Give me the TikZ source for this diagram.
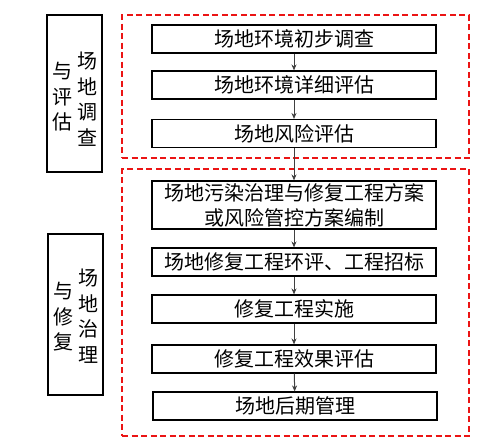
\documentclass[tikz,border=0pt]{standalone}
\usepackage{fontspec}
\newfontfamily\cjk{Noto Sans CJK SC}
\usetikzlibrary{arrows.meta}
\definecolor{arrgray}{RGB}{64, 64, 64}
\definecolor{dashred}{RGB}{235, 20, 20}

\begin{document}
\begin{tikzpicture}[x=1pt, y=-1pt,
  stepbox/.style={rectangle, draw=black, line width=1.1pt,
                  minimum width=284pt, minimum height=28pt, align=center,
                  inner sep=0pt, font=\cjk\fontsize{20}{25}\selectfont},
  side/.style={rectangle, draw=black, line width=1.1pt,
               minimum width=55pt, inner sep=0pt},
  vtext/.style={inner sep=0pt, align=center,
                font=\cjk\fontsize{20}{25.5}\selectfont},
  grp/.style={rectangle, draw=dashred, line width=2pt,
              dash pattern=on 6pt off 3.5pt, inner sep=0pt},
  arr/.style={-{Stealth[length=6pt, width=5pt]}, line width=1pt, arrgray}
]
\useasboundingbox (0,0) rectangle (487,447);

% dashed groups
\node[grp, minimum width=347pt, minimum height=143pt] (g1) at (295.5,86.5) {};
\node[grp, minimum width=347pt, minimum height=267pt] (g2) at (295.5,302.5) {};

% side labels
\node[side, minimum height=157pt] (s1) at (74.5,93.5) {};
\node[vtext] (s1r) at (87,99)   {场\\地\\调\\查};
\node[vtext] (s1l) at (62.5,97) {与\\评\\估};

\node[side, minimum height=161pt] (s2) at (75.5,314.5) {};
\node[vtext] (s2r) at (88,316)  {场\\地\\治\\理};
\node[vtext] (s2l) at (63,317)  {与\\修\\复};

% flow steps
\node[stepbox] (b1) at (294,39)    {场地环境初步调查};
\node[stepbox] (b2) at (294,85)    {场地环境详细评估};
\node[stepbox] (b3) at (294,133.5) {场地风险评估};
\node[stepbox, minimum height=48pt]
               (b4) at (294,205)   {场地污染治理与修复工程方案\\或风险管控方案编制};
\node[stepbox] (b5) at (294,262)   {场地修复工程环评、工程招标};
\node[stepbox] (b6) at (294,309)   {修复工程实施};
\node[stepbox] (b7) at (294,359)   {修复工程效果评估};
\node[stepbox] (b8) at (295,406)   {场地后期管理};

\draw[arr] (b1) -- (b2);
\draw[arr] (b2) -- (b3);
\draw[arr] (b3) -- (b4);
\draw[arr] (b4) -- (b5);
\draw[arr] (b5) -- (b6);
\draw[arr] (b6) -- (b7);
\draw[arr] (b7) -- (b8);

\end{tikzpicture}
\end{document}
